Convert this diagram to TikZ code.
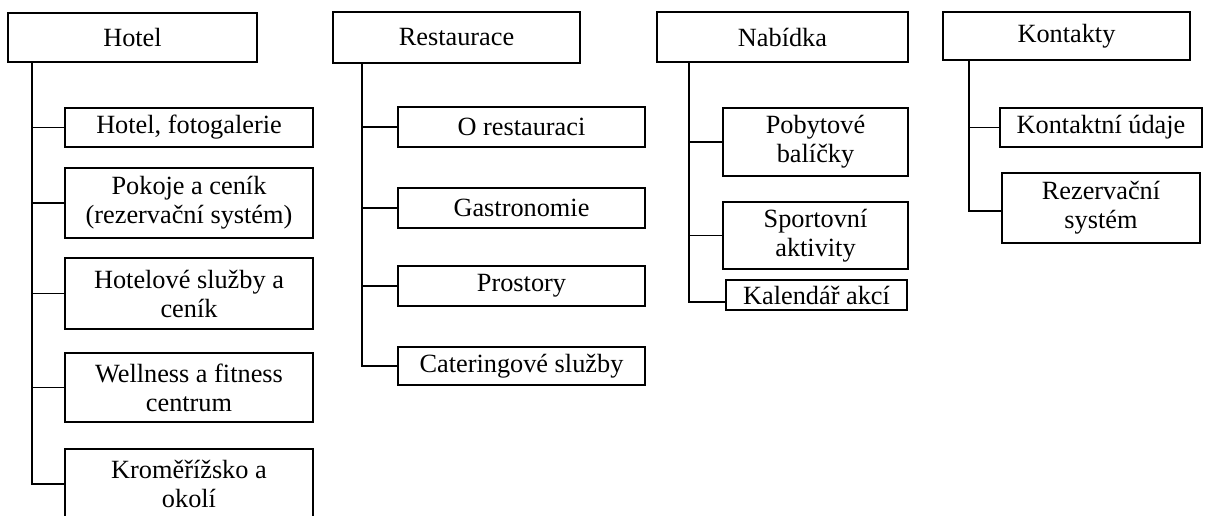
\documentclass[tikz,border=0pt]{standalone}
\usepackage{fontspec}
\setmainfont{Liberation Serif}
\begin{document}
\begin{tikzpicture}[x=1pt,y=-1pt,
  box/.style={draw=black,line width=2.8pt,rectangle,inner sep=0pt,align=center,
    font=\fontsize{26.3}{29}\selectfont,fill=white},
  conn/.style={draw=black,line width=1.8pt}]
\useasboundingbox (0,0) rectangle (1224,516);
\clip (0,0) rectangle (1224,516);
% Hotel
\node[box,minimum width=249pt,minimum height=49pt] (hotel) at (132.5,37.5) {Hotel};
\node[box,minimum width=248pt,minimum height=39pt] (hfoto) at (189,127.5) {Hotel, fotogalerie};
\node[box,minimum width=248pt,minimum height=70pt] (pokoje) at (189,203) {Pokoje a ceník\\(rezervační systém)};
\node[box,minimum width=248pt,minimum height=71pt] (hsluz) at (189,293.5) {Hotelové služby a\\ceník};
\node[box,minimum width=248pt,minimum height=69pt] (well) at (189,387.5) {Wellness a fitness\\centrum};
\node[box,minimum width=248pt,minimum height=70pt] (krom) at (189,484) {Kroměřížsko a\\okolí};
\coordinate (ht) at (32,62);
\draw[conn] (ht) |- (krom.west);
\foreach \n in {hfoto,pokoje,hsluz,well} \draw[conn] (ht |- \n.west) -- (\n.west);
% Restaurace
\node[box,minimum width=247pt,minimum height=51pt] (rest) at (456.5,37.5) {Restaurace};
\node[box,minimum width=247pt,minimum height=40pt] (orest) at (521.5,127) {O restauraci};
\node[box,minimum width=247pt,minimum height=40pt] (gast) at (521.5,208) {Gastronomie};
\node[box,minimum width=247pt,minimum height=40pt] (pros) at (521.5,286) {Prostory};
\node[box,minimum width=247pt,minimum height=38pt] (cat) at (521.5,366) {Cateringové služby};
\coordinate (rt) at (362,63);
\draw[conn] (rt) |- (cat.west);
\foreach \n in {orest,gast,pros} \draw[conn] (rt |- \n.west) -- (\n.west);
% Nabidka
\node[box,minimum width=251pt,minimum height=50pt] (nab) at (782.5,37) {Nabídka};
\node[box,minimum width=185pt,minimum height=68pt] (pob) at (815.5,142) {Pobytové\\balíčky};
\node[box,minimum width=185pt,minimum height=67pt] (sport) at (815.5,235.5) {Sportovní\\aktivity};
\node[box,minimum width=181pt,minimum height=30pt] (kal) at (816.5,295) {Kalendář akcí};
\coordinate (nt) at (689,62);
\coordinate (kalw) at ([yshift=-7pt]kal.west);
\draw[conn] (nt) |- (kalw);
\foreach \n in {pob,sport} \draw[conn] (nt |- \n.west) -- (\n.west);
% Kontakty
\node[box,minimum width=247pt,minimum height=48pt] (kont) at (1066.5,36) {Kontakty};
\node[box,minimum width=202pt,minimum height=39pt] (kudaj) at (1101,127.5) {Kontaktní údaje};
\node[box,minimum width=198pt,minimum height=70pt] (rez) at (1101,208) {Rezervační\\systém};
\coordinate (kt) at (969,60);
\coordinate (rezw) at ([yshift=-3pt]rez.west);
\draw[conn] (kt) |- (rezw);
\draw[conn] (kt |- kudaj.west) -- (kudaj.west);
\end{tikzpicture}
\end{document}
